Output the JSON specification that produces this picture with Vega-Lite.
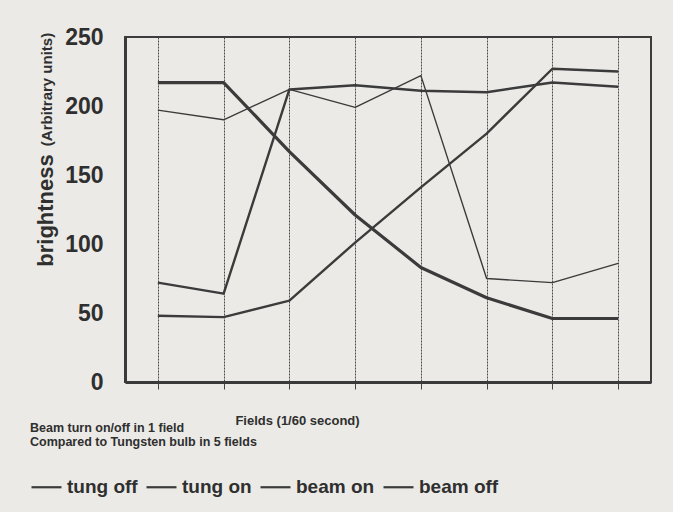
{
  "$schema": "https://vega.github.io/schema/vega-lite/v6.json",
  "autosize": "none",
  "width": 526,
  "height": 345,
  "padding": {"left": 125, "top": 37, "right": 22, "bottom": 130},
  "background": "#ebeae6",
  "config": {
    "font": "Liberation Sans",
    "view": {"stroke": "#3d3d3d", "strokeWidth": 2},
    "axis": {"labelFont": "Liberation Sans", "titleFont": "Liberation Sans"}
  },
  "data": {
    "values": [
      {"series": "tung off", "field": 1, "value": 217},
      {"series": "tung off", "field": 2, "value": 217},
      {"series": "tung off", "field": 3, "value": 167},
      {"series": "tung off", "field": 4, "value": 121},
      {"series": "tung off", "field": 5, "value": 83},
      {"series": "tung off", "field": 6, "value": 61},
      {"series": "tung off", "field": 7, "value": 46},
      {"series": "tung off", "field": 8, "value": 46},
      {"series": "tung on", "field": 1, "value": 48},
      {"series": "tung on", "field": 2, "value": 47},
      {"series": "tung on", "field": 3, "value": 59},
      {"series": "tung on", "field": 4, "value": 101},
      {"series": "tung on", "field": 5, "value": 141},
      {"series": "tung on", "field": 6, "value": 180},
      {"series": "tung on", "field": 7, "value": 227},
      {"series": "tung on", "field": 8, "value": 225},
      {"series": "beam on", "field": 1, "value": 72},
      {"series": "beam on", "field": 2, "value": 64},
      {"series": "beam on", "field": 3, "value": 212},
      {"series": "beam on", "field": 4, "value": 215},
      {"series": "beam on", "field": 5, "value": 211},
      {"series": "beam on", "field": 6, "value": 210},
      {"series": "beam on", "field": 7, "value": 217},
      {"series": "beam on", "field": 8, "value": 214},
      {"series": "beam off", "field": 1, "value": 197},
      {"series": "beam off", "field": 2, "value": 190},
      {"series": "beam off", "field": 3, "value": 212},
      {"series": "beam off", "field": 4, "value": 199},
      {"series": "beam off", "field": 5, "value": 222},
      {"series": "beam off", "field": 6, "value": 75},
      {"series": "beam off", "field": 7, "value": 72},
      {"series": "beam off", "field": 8, "value": 86}
    ]
  },
  "encoding": {
    "x": {
      "field": "field",
      "type": "ordinal",
      "scale": {"type": "point", "padding": 0.5},
      "axis": {
        "labels": false,
        "title": "Fields (1/60 second)",
        "titleFontSize": 13,
        "titleFontWeight": "bold",
        "titleColor": "#2f2f2f",
        "titleX": 172,
        "titleY": 32,
        "titleAlign": "center",
        "titleBaseline": "top",
        "grid": true,
        "gridColor": "#4a4a4a",
        "gridWidth": 1,
        "gridDash": [2, 1],
        "ticks": true,
        "tickSize": 7,
        "tickColor": "#444444",
        "tickWidth": 1,
        "domainColor": "#3a3a3a",
        "domainWidth": 3
      }
    }
  },
  "layer": [
    {
      "encoding": {
        "y": {
          "field": "value",
          "type": "quantitative",
          "scale": {"domain": [0, 250]},
          "axis": {
            "values": [0, 50, 100, 150, 200, 250],
            "grid": false,
            "ticks": false,
            "tickSize": 0,
            "labelPadding": 22,
            "labelFontSize": 23,
            "labelFontWeight": "bold",
            "labelColor": "#2f2f2f",
            "domainColor": "#3a3a3a",
            "domainWidth": 3,
            "title": "brightness",
            "titleFontSize": 22,
            "titleFontWeight": "bold",
            "titleColor": "#2f2f2f",
            "titleAngle": -90,
            "titleX": -80,
            "titleY": 173,
            "titleAlign": "center",
            "titleBaseline": "middle"
          }
        },
        "color": {
          "field": "series",
          "type": "nominal",
          "scale": {
            "domain": ["tung off", "tung on", "beam on", "beam off"],
            "range": ["#3b3b3b", "#3b3b3b", "#3b3b3b", "#3b3b3b"]
          },
          "legend": {
            "orient": "none",
            "legendX": -95,
            "legendY": 385,
            "direction": "horizontal",
            "padding": 0,
            "title": ["Beam turn on/off in 1 field", "Compared to Tungsten bulb in 5 fields"],
            "titleFontSize": 12.5,
            "titleFontWeight": "bold",
            "titleColor": "#2f2f2f",
            "titleLineHeight": 14,
            "titlePadding": 22,
            "titleAnchor": "start",
            "titleLimit": 500,
            "symbolType": "stroke",
            "symbolSize": 900,
            "symbolStrokeWidth": 2.2,
            "symbolStrokeColor": "#3b3b3b",
            "labelFontSize": 19,
            "labelFontWeight": "bold",
            "labelColor": "#2f2f2f",
            "labelOffset": 4,
            "columnPadding": 4,
            "labelLimit": 200,
            "offset": 0
          }
        }
      },
      "layer": [
        {
          "transform": [{"filter": "datum.series === 'tung off'"}],
          "mark": {"type": "line", "strokeJoin": "round", "strokeWidth": 3.2}
        },
        {
          "transform": [{"filter": "datum.series === 'tung on'"}],
          "mark": {"type": "line", "strokeJoin": "round", "strokeWidth": 2.4}
        },
        {
          "transform": [{"filter": "datum.series === 'beam on'"}],
          "mark": {"type": "line", "strokeJoin": "round", "strokeWidth": 2.4}
        },
        {
          "transform": [{"filter": "datum.series === 'beam off'"}],
          "mark": {"type": "line", "strokeJoin": "round", "strokeWidth": 1.4}
        }
      ]
    },
    {
      "mark": {"type": "point", "opacity": 0},
      "encoding": {
        "y": {
          "field": "value",
          "type": "quantitative",
          "scale": {"domain": [0, 250]},
          "axis": {
            "orient": "left",
            "labels": false,
            "ticks": false,
            "domain": false,
            "grid": false,
            "title": "(Arbitrary units)",
            "titleFontSize": 15,
            "titleFontWeight": "bold",
            "titleColor": "#2f2f2f",
            "titleAngle": -90,
            "titleX": -79,
            "titleY": 52,
            "titleAlign": "center",
            "titleBaseline": "middle"
          }
        }
      }
    }
  ],
  "resolve": {"scale": {"y": "independent"}, "axis": {"y": "independent"}}
}
